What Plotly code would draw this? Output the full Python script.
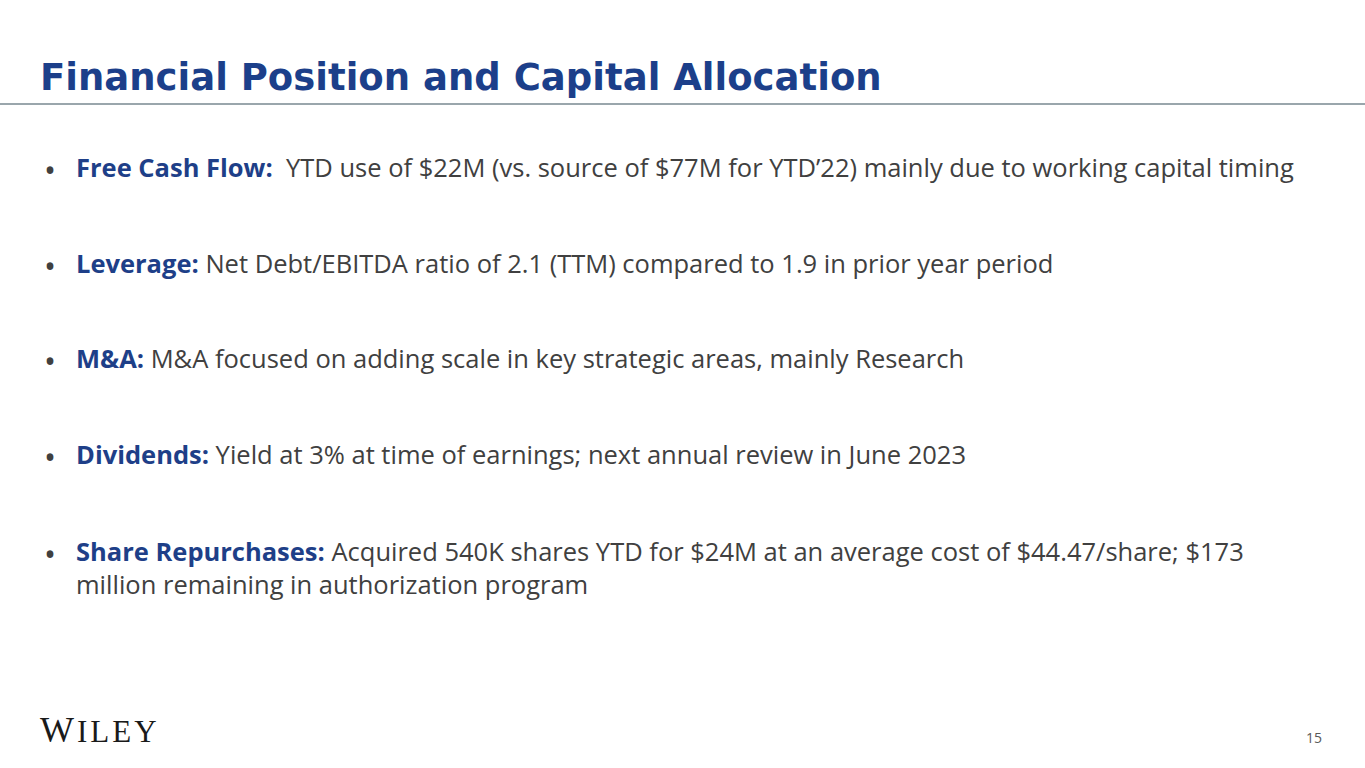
import plotly.graph_objects as go

W, H = 1365, 768

title = "Financial Position and Capital Allocation"
headings = ["Free Cash Flow:", "Leverage:", "M&A:", "Dividends:", "Share Repurchases:"]
descriptions = [
    "\u00a0 YTD use of $22M (vs. source of $77M for YTD\u201922) mainly due to working capital timing",
    " Net Debt/EBITDA ratio of 2.1 (TTM) compared to 1.9 in prior year period",
    " M&A focused on adding scale in key strategic areas, mainly Research",
    " Yield at 3% at time of earnings; next annual review in June 2023",
    " Acquired 540K shares YTD for $24M at an average cost of $44.47/share; $173\nmillion remaining in authorization program",
]
bullet_y = [169, 265, 360, 456, 553]
page_number = "15"
logo_first, logo_rest = "W", "ILEY"

TITLE_C = "#1C3F8A"
HEAD_C = "#1E3F88"
BODY_C = "#404040"
BODY_F = "Open Sans"
BODY_S = 25.5

def px(x):
    return x / W

def py(y):
    return 1 - y / H

fig = go.Figure()
ann = []
ann.append(dict(x=px(38), y=py(77), text="<b>" + title + "</b>", showarrow=False,
                xanchor="left", yanchor="middle",
                font=dict(family="DejaVu Sans", size=37, color=TITLE_C)))
for h, d, y in zip(headings, descriptions, bullet_y):
    ann.append(dict(x=px(50), y=py(y), text="\u2022", showarrow=False,
                    xanchor="center", yanchor="middle",
                    font=dict(family=BODY_F, size=32, color=BODY_C)))
    txt = "<b><span style='color:%s'>%s</span></b>%s" % (HEAD_C, h.replace("&", "&amp;"), d.replace("\n", "<br>"))
    ann.append(dict(x=px(74), y=py(y - 21), text=txt, showarrow=False,
                    xanchor="left", yanchor="top", align="left",
                    font=dict(family=BODY_F, size=BODY_S, color=BODY_C)))
ann.append(dict(x=px(38), y=py(730),
                text="<span style='font-size:36px;letter-spacing:3px'>%s</span><span style='letter-spacing:3px'>%s</span>" % (logo_first, logo_rest),
                showarrow=False, xanchor="left", yanchor="middle",
                font=dict(family="Liberation Serif", size=31, color="#1a1a1a")))
ann.append(dict(x=px(1324), y=py(737), text=page_number, showarrow=False,
                xanchor="right", yanchor="middle",
                font=dict(family=BODY_F, size=14, color="#595959")))

fig.update_layout(
    width=W, height=H, margin=dict(l=0, r=0, t=0, b=0),
    paper_bgcolor="white", plot_bgcolor="white",
    xaxis=dict(visible=False, range=[0, 1]), yaxis=dict(visible=False, range=[0, 1]),
    annotations=ann,
    shapes=[dict(type="line", xref="paper", yref="paper", x0=0, x1=1, y0=py(104), y1=py(104),
                 line=dict(color="#9AA6AC", width=2))],
)
fig.write_html("out.html", config={"displayModeBar": False},
               post_script="document.body.style.margin='0';document.body.style.overflow='hidden';")
